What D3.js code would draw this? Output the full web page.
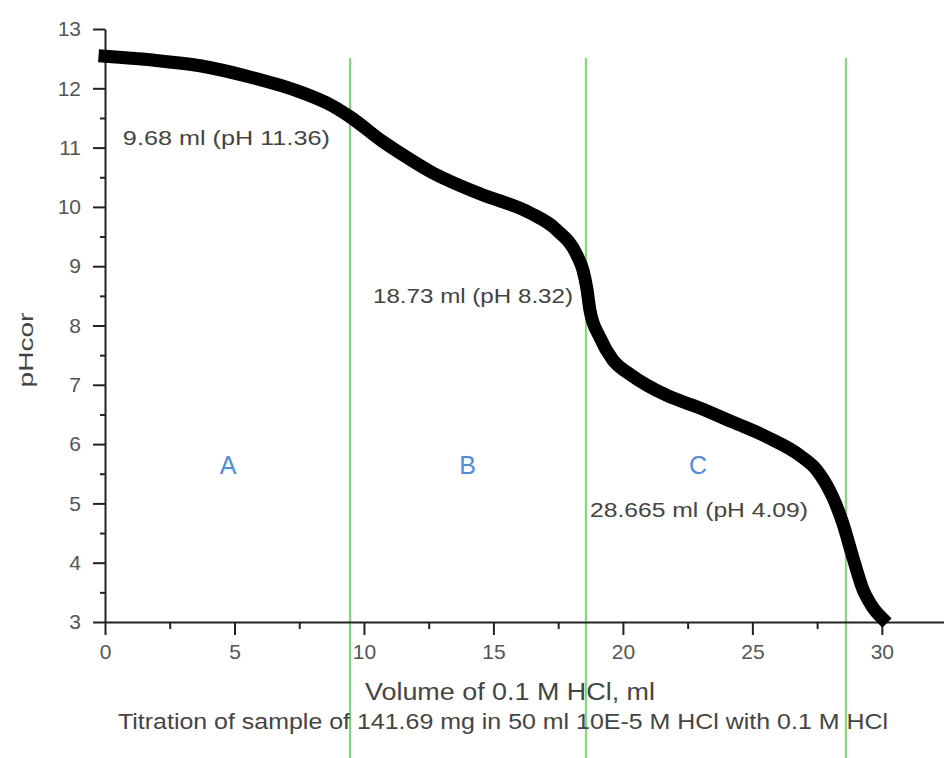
<!DOCTYPE html>
<html>
<head>
<meta charset="utf-8">
<script src="https://cdn.jsdelivr.net/npm/d3@7"></script>
<style>
  body { margin: 0; background: #fff; }
  text { font-family: "Liberation Sans", Arial, sans-serif; }
</style>
</head>
<body>
<div id="chart"></div>
<script>
// titration curve
const volume = [0, 1.74, 3.67, 5.6, 7.53, 8.8, 9.46, 10.73, 11.39, 12.55, 14.48, 16.41, 17.45, 18.22, 18.46, 18.61, 18.73, 19.11, 19.61, 20.3, 21.7, 22.97, 24.25, 25.56, 26.83, 27.49, 28.11, 28.49, 28.88, 29.27, 29.6, 30.02];
const pH = [12.54, 12.48, 12.38, 12.19, 11.94, 11.70, 11.52, 11.10, 10.91, 10.60, 10.22, 9.90, 9.61, 9.19, 8.93, 8.62, 8.25, 7.80, 7.42, 7.17, 6.82, 6.61, 6.37, 6.12, 5.81, 5.56, 5.10, 4.67, 4.09, 3.55, 3.28, 3.06];

// vertical green markers (equivalence points)
const markerX = [9.46, 18.57, 28.61];

// zone letters
const zoneLabels = ["A", "B", "C"];
const zoneX = [4.75, 14.0, 22.9];
const zoneY = 5.5;

// endpoint annotations
const noteText = ["9.68 ml (pH 11.36)", "18.73 ml (pH 8.32)", "28.665 ml (pH 4.09)"];
const noteX = [0.69, 10.35, 18.73];
const noteY = [11.04, 8.38, 4.77];

const xMajor = [0, 5, 10, 15, 20, 25, 30];
const xMinor = [2.5, 7.5, 12.5, 17.5, 22.5, 27.5];
const yMajor = [3, 4, 5, 6, 7, 8, 9, 10, 11, 12, 13];
const yMinor = [3.5, 4.5, 5.5, 6.5, 7.5, 8.5, 9.5, 10.5, 11.5, 12.5];

const xTitle = "Volume of 0.1 M HCl, ml";
const yTitle = "pHcor";
const caption = "Titration of sample of 141.69 mg in 50 ml 10E-5 M HCl with 0.1 M HCl";

const width = 944, height = 758;

const svg = d3.select("#chart").append("svg")
  .attr("width", width)
  .attr("height", height);

const x = d3.scaleLinear().domain([0, 32.4]).range([105, 944]);
const y = d3.scaleLinear().domain([3, 13]).range([622, 29]);

// green lines go right through the titles
svg.append("g").selectAll("line")
  .data(markerX)
  .enter().append("line")
  .attr("x1", d => x(d)).attr("x2", d => x(d))
  .attr("y1", 58).attr("y2", height)
  .attr("stroke", "#74dd66")
  .attr("stroke-width", 2);

// axes
const axisColor = "#222";

const gx = svg.append("g").attr("transform", "translate(0," + y(3) + ")");
gx.call(d3.axisBottom(x).tickValues(xMajor).tickSize(13).tickSizeOuter(0).tickPadding(9).tickFormat(d3.format("d")));
gx.append("g").call(d3.axisBottom(x).tickValues(xMinor).tickSize(7).tickSizeOuter(0).tickFormat(""))
  .select(".domain").remove();

const gy = svg.append("g").attr("transform", "translate(" + x(0) + ",0)");
gy.call(d3.axisLeft(y).tickValues(yMajor).tickSize(12).tickSizeOuter(0).tickPadding(12).tickFormat(d3.format("d")));
gy.append("g").call(d3.axisLeft(y).tickValues(yMinor).tickSize(5).tickSizeOuter(0).tickFormat(""))
  .select(".domain").remove();

svg.selectAll(".domain, .tick line")
  .attr("stroke", axisColor)
  .attr("stroke-width", 2);
svg.selectAll(".tick text")
  .attr("fill", "#555")
  .attr("font-size", 21)
  .style("font-size", "21px");

// the curve
const line = d3.line()
  .x((d, i) => x(volume[i]))
  .y(d => y(d))
  .curve(d3.curveMonotoneX);

svg.append("path")
  .datum(pH)
  .attr("d", line)
  .attr("fill", "none")
  .attr("stroke", "#000")
  .attr("stroke-width", 13)
  .attr("stroke-linecap", "square")
  .attr("stroke-linejoin", "round");

// annotations
const noteWidth = [207, 200, 218];
svg.append("g").selectAll("text")
  .data(noteText)
  .enter().append("text")
  .attr("x", (d, i) => x(noteX[i]))
  .attr("y", (d, i) => y(noteY[i]))
  .attr("textLength", (d, i) => noteWidth[i])
  .attr("lengthAdjust", "spacingAndGlyphs")
  .attr("fill", "#444")
  .style("font-size", "20px")
  .text(d => d);

svg.append("g").selectAll("text")
  .data(zoneLabels)
  .enter().append("text")
  .attr("x", (d, i) => x(zoneX[i]))
  .attr("y", y(zoneY))
  .attr("text-anchor", "middle")
  .attr("fill", "#4a8fe3")
  .style("font-size", "25px")
  .text(d => d);

// titles
svg.append("text")
  .attr("x", 510).attr("y", 700)
  .attr("text-anchor", "middle")
  .attr("textLength", 290)
  .attr("lengthAdjust", "spacingAndGlyphs")
  .attr("fill", "#444")
  .style("font-size", "23px")
  .text(xTitle);

svg.append("text")
  .attr("x", 503).attr("y", 729)
  .attr("text-anchor", "middle")
  .attr("textLength", 770)
  .attr("lengthAdjust", "spacingAndGlyphs")
  .attr("fill", "#444")
  .style("font-size", "22px")
  .text(caption);

svg.append("text")
  .attr("transform", "translate(33,350) rotate(-90)")
  .attr("text-anchor", "middle")
  .attr("textLength", 75)
  .attr("lengthAdjust", "spacingAndGlyphs")
  .attr("fill", "#444")
  .style("font-size", "20px")
  .text(yTitle);
</script>
</body>
</html>
